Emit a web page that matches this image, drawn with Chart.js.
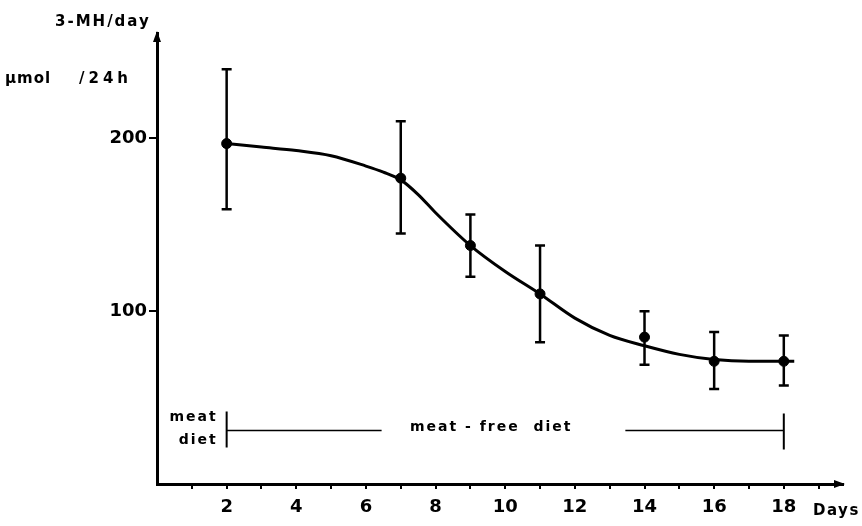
<!DOCTYPE html>
<html>
<head>
<meta charset="utf-8">
<script src="https://cdn.jsdelivr.net/npm/chart.js@4"></script>
<style>
  html, body { margin: 0; padding: 0; background: #fff; }
  #wrap { width: 862px; height: 526px; }
</style>
</head>
<body>
<div id="wrap"><canvas id="myChart" width="862" height="526"></canvas></div>
<script>
const days = [2, 7, 9, 11, 14, 16, 18]
const mean = [197, 177, 138, 110, 85, 71, 71]
const upper = [240, 210, 156, 138, 100, 88, 86]
const lower = [159, 145, 120, 82, 69, 55, 57]

// fitted curve
const curveDays = [2, 3, 4, 5, 6, 6.5, 7, 7.5, 8, 9, 10, 11, 12, 13, 14, 15, 16, 17, 18, 18.3]
const curveVals = [197, 195, 193, 190, 184, 180.5, 176, 167.5, 157, 138, 123, 110, 96, 86, 80, 75, 72, 71, 71, 71]

const xTicks = [1, 2, 3, 4, 5, 6, 7, 8, 9, 10, 11, 12, 13, 14, 15, 16, 17, 18, 19]
const yTicks = [100, 200]

const dietStart = 2
const dietEnd = 18

const FONT = '"DejaVu Sans", Arial, sans-serif'

function spaced(ctx, text, x, y, spacing) {
    ctx.letterSpacing = spacing + 'px'
    ctx.fillText(text, x, y)
    ctx.letterSpacing = '0px'
}

const extras = {
    id: 'extras',
    afterDatasetsDraw(chart) {
        const ctx = chart.ctx
        const x = chart.scales.x, y = chart.scales.y
        const area = chart.chartArea
        ctx.save()
        ctx.strokeStyle = '#000'
        ctx.fillStyle = '#000'

        // error bars
        ctx.lineWidth = 2.5
        days.forEach((d, i) => {
            const px = x.getPixelForValue(d)
            const t = y.getPixelForValue(upper[i])
            const b = y.getPixelForValue(lower[i])
            ctx.beginPath()
            ctx.moveTo(px, t); ctx.lineTo(px, b)
            ctx.moveTo(px - 5, t); ctx.lineTo(px + 5, t)
            ctx.moveTo(px - 5, b); ctx.lineTo(px + 5, b)
            ctx.stroke()
        })

        // arrow heads on the axes
        ctx.beginPath()
        ctx.moveTo(area.left, area.top - 2)
        ctx.lineTo(area.left - 4, area.top + 9)
        ctx.lineTo(area.left + 4, area.top + 9)
        ctx.closePath(); ctx.fill()
        ctx.beginPath()
        ctx.moveTo(area.right + 2, area.bottom)
        ctx.lineTo(area.right - 9, area.bottom - 4)
        ctx.lineTo(area.right - 9, area.bottom + 4)
        ctx.closePath(); ctx.fill()

        // axis titles
        ctx.textBaseline = 'alphabetic'
        ctx.textAlign = 'left'
        ctx.font = 'bold 15px ' + FONT
        spaced(ctx, '3-MH/day', 55, 26, 2)
        spaced(ctx, '\u00b5mol', 5, 83, 1)
        spaced(ctx, '/24h', 79, 83, 4)
        spaced(ctx, 'Days', 813, 515, 1.5)

        // diet bar
        const x0 = x.getPixelForValue(dietStart)
        const x1 = x.getPixelForValue(dietEnd)
        const yb = y.getPixelForValue(31)
        ctx.lineWidth = 2
        ctx.beginPath()
        ctx.moveTo(x0, yb - 19); ctx.lineTo(x0, yb + 17)
        ctx.moveTo(x1, yb - 17); ctx.lineTo(x1, yb + 19)
        ctx.stroke()
        ctx.lineWidth = 1.5
        ctx.beginPath()
        ctx.moveTo(x0, yb); ctx.lineTo(x.getPixelForValue(6.45), yb)
        ctx.moveTo(x.getPixelForValue(13.45), yb); ctx.lineTo(x1, yb)
        ctx.stroke()
        ctx.font = 'bold 14px ' + FONT
        ctx.textAlign = 'left'
        ctx.textBaseline = 'middle'
        spaced(ctx, 'meat - free  diet', 410, yb - 3, 2)
        ctx.textAlign = 'right'
        spaced(ctx, 'meat', x0 - 9, yb - 13, 2)
        spaced(ctx, 'diet', x0 - 9, yb + 10, 2)
        ctx.restore()
    }
}

const canvas = document.getElementById('myChart').getContext('2d')

new Chart(canvas, {
    type: 'scatter',
    data: {
        datasets: [{
            type: 'line',
            data: curveDays.map((d, i) => ({ x: d, y: curveVals[i] })),
            borderColor: '#000',
            borderWidth: 3,
            pointRadius: 0,
            cubicInterpolationMode: 'monotone',
            fill: false
        }, {
            data: days.map((d, i) => ({ x: d, y: mean[i] })),
            backgroundColor: '#000',
            borderColor: '#000',
            pointRadius: 5
        }]
    },
    plugins: [extras],
    options: {
        responsive: false,
        animation: false,
        layout: { padding: { top: 33, right: 19, left: 0, bottom: 0 } },
        plugins: { legend: { display: false }, tooltip: { enabled: false } },
        scales: {
            x: {
                type: 'linear',
                min: 0,
                max: 19.7,
                afterBuildTicks: s => { s.ticks = xTicks.map(v => ({ value: v })) },
                afterFit: s => { s.height = 42 },
                border: { display: true, color: '#000', width: 3 },
                grid: { drawOnChartArea: false, drawTicks: true, tickLength: 5, color: '#000', lineWidth: 2 },
                ticks: {
                    color: '#000',
                    font: { family: FONT, size: 18, weight: 'bold' },
                    padding: 8,
                    maxRotation: 0,
                    autoSkip: false,
                    callback: v => (v % 2 === 0 ? String(v) : '')
                }
            },
            y: {
                type: 'linear',
                min: 0,
                max: 261,
                afterBuildTicks: s => { s.ticks = yTicks.map(v => ({ value: v })) },
                afterFit: s => { s.width = 157 },
                border: { display: true, color: '#000', width: 3 },
                grid: { drawOnChartArea: false, drawTicks: true, tickLength: 8, color: '#000', lineWidth: 2 },
                ticks: {
                    color: '#000',
                    font: { family: FONT, size: 18, weight: 'bold' },
                    padding: 2
                }
            }
        }
    }
})
</script>
</body>
</html>
